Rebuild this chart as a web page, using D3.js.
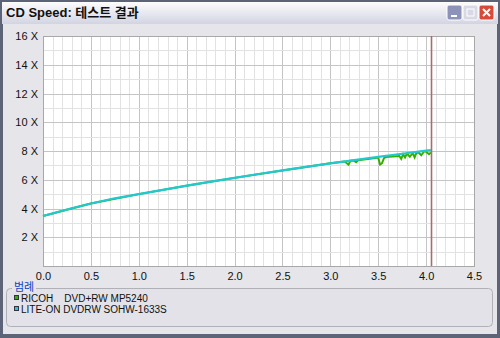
<!DOCTYPE html>
<html>
<head>
<meta charset="utf-8">
<script src="https://cdn.jsdelivr.net/npm/d3@7"></script>
<style>
body { margin: 0; background: #fff; }
text { font-family: "Liberation Sans", Arial, "Noto Sans CJK KR", sans-serif; }
</style>
</head>
<body>
<div id="chart"></div>
<script>
// tick labels
var yTicks = [2, 4, 6, 8, 10, 12, 14, 16];
var xTicks = [0, 0.5, 1.0, 1.5, 2.0, 2.5, 3.0, 3.5, 4.0, 4.5];

// LITE-ON (cyan) read speed
var liteonPos = [0, 0.25, 0.5, 0.75, 1.0, 1.25, 1.5, 1.75, 2.0, 2.25, 2.5, 2.75, 3.0, 3.25, 3.5, 3.75, 4.0, 4.05];
var liteonSpeed = [3.48, 3.93, 4.35, 4.71, 5.00, 5.30, 5.59, 5.87, 6.13, 6.40, 6.65, 6.90, 7.14, 7.37, 7.59, 7.81, 8.02, 8.06];

// RICOH (green) read speed
var ricohPos = [0, 0.5, 1.0, 1.5, 2.0, 2.5, 3.0, 3.15, 3.19, 3.21, 3.24, 3.27, 3.29, 3.31, 3.45, 3.5, 3.52, 3.54, 3.56, 3.58, 3.72, 3.74, 3.76, 3.78, 3.8, 3.83, 3.86, 3.88, 3.9, 3.92, 3.95, 3.98, 4.0, 4.03, 4.05];
var ricohSpeed = [3.48, 4.35, 5.00, 5.59, 6.13, 6.65, 7.14, 7.27, 7.05, 7.32, 7.34, 7.22, 7.36, 7.38, 7.50, 7.54, 7.05, 7.15, 7.50, 7.58, 7.65, 7.45, 7.78, 7.55, 7.82, 7.60, 7.85, 7.55, 7.88, 7.90, 7.70, 7.98, 7.95, 7.78, 7.90];

var legendNames = ["RICOH    DVD+RW MP5240", "LITE-ON DVDRW SOHW-1633S"];
var legendColors = ["#33b000", "#22c8d0"];
var markerPos = 4.05;

var W = 500, H = 338;
var svg = d3.select('#chart').append('svg')
	.attr('width', W)
	.attr('height', H);

// window frame
var grad = svg.append('defs').append('linearGradient')
	.attr('id', 'tb').attr('x1', 0).attr('y1', 0).attr('x2', 0).attr('y2', 1);
grad.append('stop').attr('offset', '0%').attr('stop-color', '#fdfdfe');
grad.append('stop').attr('offset', '100%').attr('stop-color', '#d2d4e2');

svg.append('rect').attr('width', W).attr('height', H).attr('fill', '#5e6478');
svg.append('rect').attr('x', 2).attr('y', 2).attr('width', W - 4).attr('height', 22).attr('fill', 'url(#tb)');
svg.append('rect').attr('x', 3).attr('y', 24).attr('width', W - 6).attr('height', H - 28).attr('fill', '#e5e5ea');

svg.append('text')
	.attr('x', 6).attr('y', 17)
	.attr('font-size', 13).attr('font-weight', 'bold')
	.attr('fill', '#111')
	.text('CD Speed: 테스트 결과');

// title buttons
var btns = [{x: 447, c: '#8d93b8'}, {x: 463, c: '#d8d9e4'}, {x: 479, c: '#d64a3a'}];
svg.selectAll('.btn').data(btns).enter().append('rect')
	.attr('class', 'btn')
	.attr('x', function (d) { return d.x; }).attr('y', 5)
	.attr('width', 15).attr('height', 15).attr('rx', 2)
	.attr('fill', function (d) { return d.c; })
	.attr('stroke', '#fff').attr('stroke-width', 1);
svg.append('rect').attr('x', 451).attr('y', 15).attr('width', 6).attr('height', 2).attr('fill', '#fff');
svg.append('rect').attr('x', 467).attr('y', 9).attr('width', 7).attr('height', 7).attr('fill', 'none').attr('stroke', '#fff');
svg.append('path').attr('d', 'M483,9L490,16M490,9L483,16').attr('stroke', '#fff').attr('stroke-width', 2);

// plot area
var x = d3.scaleLinear().domain([0, 4.5]).range([43, 474]);
var y = d3.scaleLinear().domain([0, 16]).range([266, 36]);

svg.append('rect')
	.attr('x', x(0)).attr('y', y(16))
	.attr('width', x(4.5) - x(0)).attr('height', y(0) - y(16))
	.attr('fill', 'white');

// minor verticals every 0.1
svg.append('g').selectAll('line')
	.data(d3.range(1, 45))
	.enter().append('line')
	.style('stroke', function (d) { return d % 5 === 0 ? '#c4c4c4' : '#e2e2e2'; })
	.attr('x1', function (d) { return Math.round(x(d / 10)) + 0.5; })
	.attr('x2', function (d) { return Math.round(x(d / 10)) + 0.5; })
	.attr('y1', y(16)).attr('y2', y(0));

// horizontals every 1X
svg.append('g').selectAll('line')
	.data(d3.range(1, 16))
	.enter().append('line')
	.style('stroke', function (d) { return d % 2 === 0 ? '#c4c4c4' : '#e2e2e2'; })
	.attr('x1', x(0)).attr('x2', x(4.5))
	.attr('y1', function (d) { return Math.round(y(d)) + 0.5; })
	.attr('y2', function (d) { return Math.round(y(d)) + 0.5; });

svg.append('rect')
	.attr('x', x(0) + 0.5).attr('y', y(16) + 0.5)
	.attr('width', x(4.5) - x(0)).attr('height', y(0) - y(16))
	.attr('fill', 'none').attr('stroke', '#a8a8a8');

// axes
var yAxis = svg.append('g')
	.attr('transform', 'translate(' + (x(0) - 2) + ',0)')
	.call(d3.axisLeft(y).tickValues(yTicks).tickSize(0).tickFormat(function (d) { return d + ' X'; }));
var xAxis = svg.append('g')
	.attr('transform', 'translate(0,' + (y(0) + 3) + ')')
	.call(d3.axisBottom(x).tickValues(xTicks).tickSize(0).tickFormat(d3.format('.1f')));
[xAxis, yAxis].forEach(function (a) {
	a.select('.domain').remove();
	a.selectAll('text').attr('font-size', 11).attr('fill', '#111')
		.style('font-family', '"Liberation Sans", Arial, sans-serif');
});

// series
var line = d3.line()
	.x(function (d) { return x(d[0]); })
	.y(function (d) { return y(d[1]); });

svg.append('path')
	.datum(d3.zip(ricohPos, ricohSpeed))
	.attr('d', line)
	.attr('fill', 'none')
	.attr('stroke', legendColors[0])
	.attr('stroke-width', 2);

svg.append('path')
	.datum(d3.zip(liteonPos, liteonSpeed))
	.attr('d', line)
	.attr('fill', 'none')
	.attr('stroke', legendColors[1])
	.attr('stroke-width', 2.2);

// end marker
svg.append('line')
	.attr('x1', Math.round(x(markerPos)) + 0.5).attr('x2', Math.round(x(markerPos)) + 0.5)
	.attr('y1', y(16)).attr('y2', y(0))
	.style('stroke', '#b06a6a').style('stroke-width', 1.6);

// legend group box
svg.append('rect')
	.attr('x', 6.5).attr('y', 288.5).attr('width', 486).attr('height', 38).attr('rx', 4)
	.attr('fill', '#e2e2e8').attr('stroke', '#b0b0b8');
svg.append('rect').attr('x', 12).attr('y', 282).attr('width', 24).attr('height', 10).attr('fill', '#e5e5ea');
svg.append('text')
	.attr('x', 14).attr('y', 291)
	.attr('font-size', 11).attr('fill', '#1044c8')
	.style('font-family', '"Noto Sans CJK KR", sans-serif')
	.text('범례');

var items = svg.append('g').selectAll('g')
	.data(legendNames)
	.enter().append('g')
	.attr('transform', function (d, i) { return 'translate(14,' + (295 + i * 11) + ')'; });
items.append('rect')
	.attr('x', 0.5).attr('y', 0.5).attr('width', 4).attr('height', 4)
	.attr('fill', function (d, i) { return legendColors[i]; })
	.attr('stroke', '#334');
items.append('text')
	.attr('x', 7).attr('y', 6.5)
	.attr('font-size', 10).attr('fill', '#111')
	.attr('xml:space', 'preserve')
	.style('white-space', 'pre')
	.text(function (d) { return d; });
</script>
</body>
</html>
